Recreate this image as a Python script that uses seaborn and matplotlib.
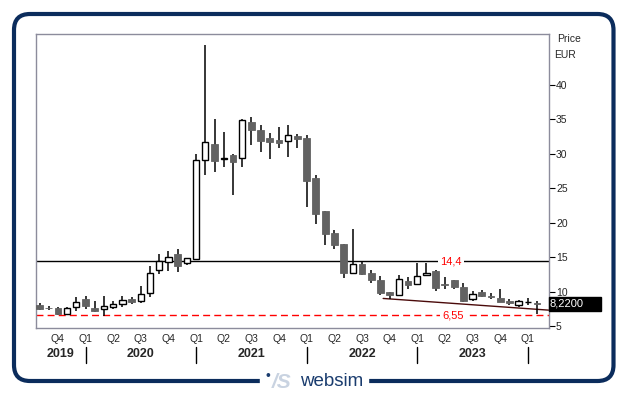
import numpy as np
import pandas as pd
import matplotlib
matplotlib.use("Agg")
import matplotlib.pyplot as plt
import matplotlib.transforms as mtransforms
from matplotlib.patches import FancyBboxPatch, Rectangle
import seaborn as sns

# monthly candles, Aug 2019 - Feb 2024
months = pd.period_range("2019-08", "2024-02", freq="M")
opens = [8.05, 7.6, 7.66, 6.79, 7.71, 8.92, 7.61, 7.52, 7.81, 8.15, 8.92, 8.63,
         9.74, 13.08, 14.34, 15.46, 14.1, 14.78, 29.06, 31.43, 29.3, 29.83, 29.35,
         34.62, 33.46, 32.36, 32.02, 31.82, 32.6, 32.36, 26.49, 21.7, 18.55, 16.91,
         12.7, 14.01, 12.75, 11.68, 9.94, 9.46, 11.54, 11.06, 12.36, 12.99, 11.06,
         11.61, 10.63, 8.88, 9.95, 9.3, 9.02, 8.59, 8.0, 8.44, 8.3]
highs = [8.29, 7.9, 7.8, 7.8, 9.16, 9.36, 8.68, 9.36, 8.63, 9.36, 9.26, 10.8,
         13.71, 15.46, 15.89, 16.18, 14.83, 29.98, 45.8, 35.06, 33.17, 29.98, 35.06,
         35.3, 34.19, 33.03, 33.9, 34.19, 32.83, 32.69, 26.88, 21.7, 18.94, 16.91,
         19.14, 14.39, 13.14, 12.27, 9.94, 12.41, 12.17, 14.2, 14.2, 13.14, 12.12,
         11.7, 11.22, 10.05, 10.24, 9.85, 10.34, 8.98, 8.78, 9.07, 8.63]
lows = [7.32, 7.32, 6.6, 6.7, 7.23, 7.42, 7.08, 6.45, 7.42, 7.81, 8.2, 8.39,
        9.26, 12.6, 13.04, 12.89, 13.9, 14.78, 26.93, 27.41, 28.14, 24.02, 28.04,
        31.33, 30.33, 29.3, 30.9, 29.5, 30.9, 22.33, 19.86, 16.81, 16.23, 12.02,
        12.6, 12.36, 11.3, 9.55, 8.88, 9.46, 10.43, 10.91, 12.22, 10.14, 10.33,
        10.44, 8.49, 8.59, 9.27, 8.98, 8.44, 8.1, 7.71, 8.1, 6.73]
closes = [7.47, 7.55, 6.74, 7.61, 8.44, 7.95, 7.23, 7.9, 8.2, 8.78, 8.53, 9.6,
          12.65, 14.39, 14.97, 13.76, 14.83, 29.06, 31.67, 29.01, 29.4, 28.86, 34.86,
          33.51, 31.92, 31.77, 31.63, 32.69, 32.2, 26.1, 21.31, 18.41, 16.81, 12.75,
          14.01, 12.6, 11.64, 9.75, 9.46, 11.78, 10.91, 12.22, 12.65, 10.57, 11.0,
          10.63, 8.68, 9.66, 9.37, 9.2, 8.54, 8.29, 8.63, 8.5, 8.22]

resistance = 14.4
support = 6.55
last_price = "8,2200"
trend_x = [37.3, 55.3]
trend_y = [9.0, 7.3]

df = pd.DataFrame({"month": months, "open": opens, "high": highs,
                   "low": lows, "close": closes})
df["i"] = np.arange(len(df))
df["up"] = df["close"] >= df["open"]

sns.set_style("white")
plt.rcParams["font.family"] = ["Liberation Sans", "DejaVu Sans"]

fig = plt.figure(figsize=(6.29, 3.95), dpi=100)
ax = fig.add_axes([36 / 629, 1 - 328 / 395, 513 / 629, 294 / 395])

# Support / resistance lines
ax.axhline(resistance, color="black", lw=1, zorder=1)
ax.axhline(support, color="red", lw=1, ls=(0, (5, 3)), zorder=1)
ax.plot(trend_x, trend_y, color="#4a0a0a", lw=1, zorder=1)
ax.text(44.7, resistance, "14,4", color="red", fontsize=8, ha="center", va="center",
        bbox=dict(fc="white", ec="none", pad=1.5), zorder=2)
ax.text(44.9, support, "6,55", color="red", fontsize=8, ha="center", va="center",
        bbox=dict(fc="white", ec="none", pad=1.5), zorder=2)

# Candles
ax.vlines(df["i"], df["low"], df["high"], color="black", lw=1.1, zorder=3)
up = df[df["up"]]
dn = df[~df["up"]]
ax.bar(up["i"], up["close"] - up["open"], bottom=up["open"], width=0.68,
       color="white", edgecolor="black", linewidth=1.0, zorder=4)
ax.bar(dn["i"], dn["open"] - dn["close"], bottom=dn["close"], width=0.74,
       color="#626262", edgecolor="#626262", linewidth=0.6, zorder=4)

ax.set_xlim(-0.38, 55.3)
ax.set_ylim(4.71, 47.4)

# right price axis
ax.yaxis.tick_right()
ax.set_yticks(range(5, 45, 5))
ax.tick_params(axis="y", direction="out", length=4, width=0.8, color="black",
               labelsize=7.5, pad=1)

# quarter labels
q_pos = list(range(2, 55, 3))
q_lab = ["Q4"] + ["Q1", "Q2", "Q3", "Q4"] * 4 + ["Q1"]
ax.set_xticks(q_pos)
ax.set_xticklabels(q_lab)
ax.tick_params(axis="x", length=0, labelsize=7.5, pad=4)

for s in ax.spines.values():
    s.set_color("#8c8c9c")
    s.set_linewidth(1)

trans = mtransforms.blended_transform_factory(ax.transData, ax.transAxes)
years = ["2019", "2020", "2021", "2022", "2023"]
year_x = [2.3, 11, 23, 35, 47]
for yx, yl in zip(year_x, years):
    ax.text(yx, -0.09, yl, transform=trans, ha="center", va="center",
            fontsize=9, fontweight="bold", clip_on=False)
for sx in [5, 17, 29, 41, 53]:
    ax.plot([sx, sx], [-0.065, -0.118], transform=trans, color="black",
            lw=1, clip_on=False)

ax.text(1.015, 1.0, "Price", transform=ax.transAxes, fontsize=7.5, va="top", ha="left")
ax.text(1.01, 0.945, "EUR", transform=ax.transAxes, fontsize=7.5, va="top", ha="left")

# last price box
fig.add_artist(Rectangle((549 / 629, 1 - 311 / 395), 52 / 629, 14 / 395,
                         transform=fig.transFigure, color="black"))
fig.text(550 / 629, 1 - 304 / 395, last_price, color="white", fontsize=8,
         ha="left", va="center")

# frame
fig.add_artist(FancyBboxPatch((14, 14), 599.5, 367,
                              boxstyle="round,pad=0,rounding_size=16",
                              transform=None, fill=False, ec="#0b2c5c", lw=3))
fig.add_artist(Rectangle((260 / 629, 0), 108 / 629, 25 / 395,
                         transform=fig.transFigure, color="white"))
fig.text(266 / 629, 1 - 383 / 395, "•", color="#1a3c6e", fontsize=10,
         ha="left", va="bottom")
fig.text(272 / 629, 1 - 382 / 395, "/S", color="#c9d3e1", fontsize=15,
         fontweight="bold", style="italic", ha="left", va="center")
fig.text(300 / 629, 1 - 382 / 395, "websim", color="#1a3c6e", fontsize=13.5,
         ha="left", va="center")

fig.savefig("out.png", dpi=100)
